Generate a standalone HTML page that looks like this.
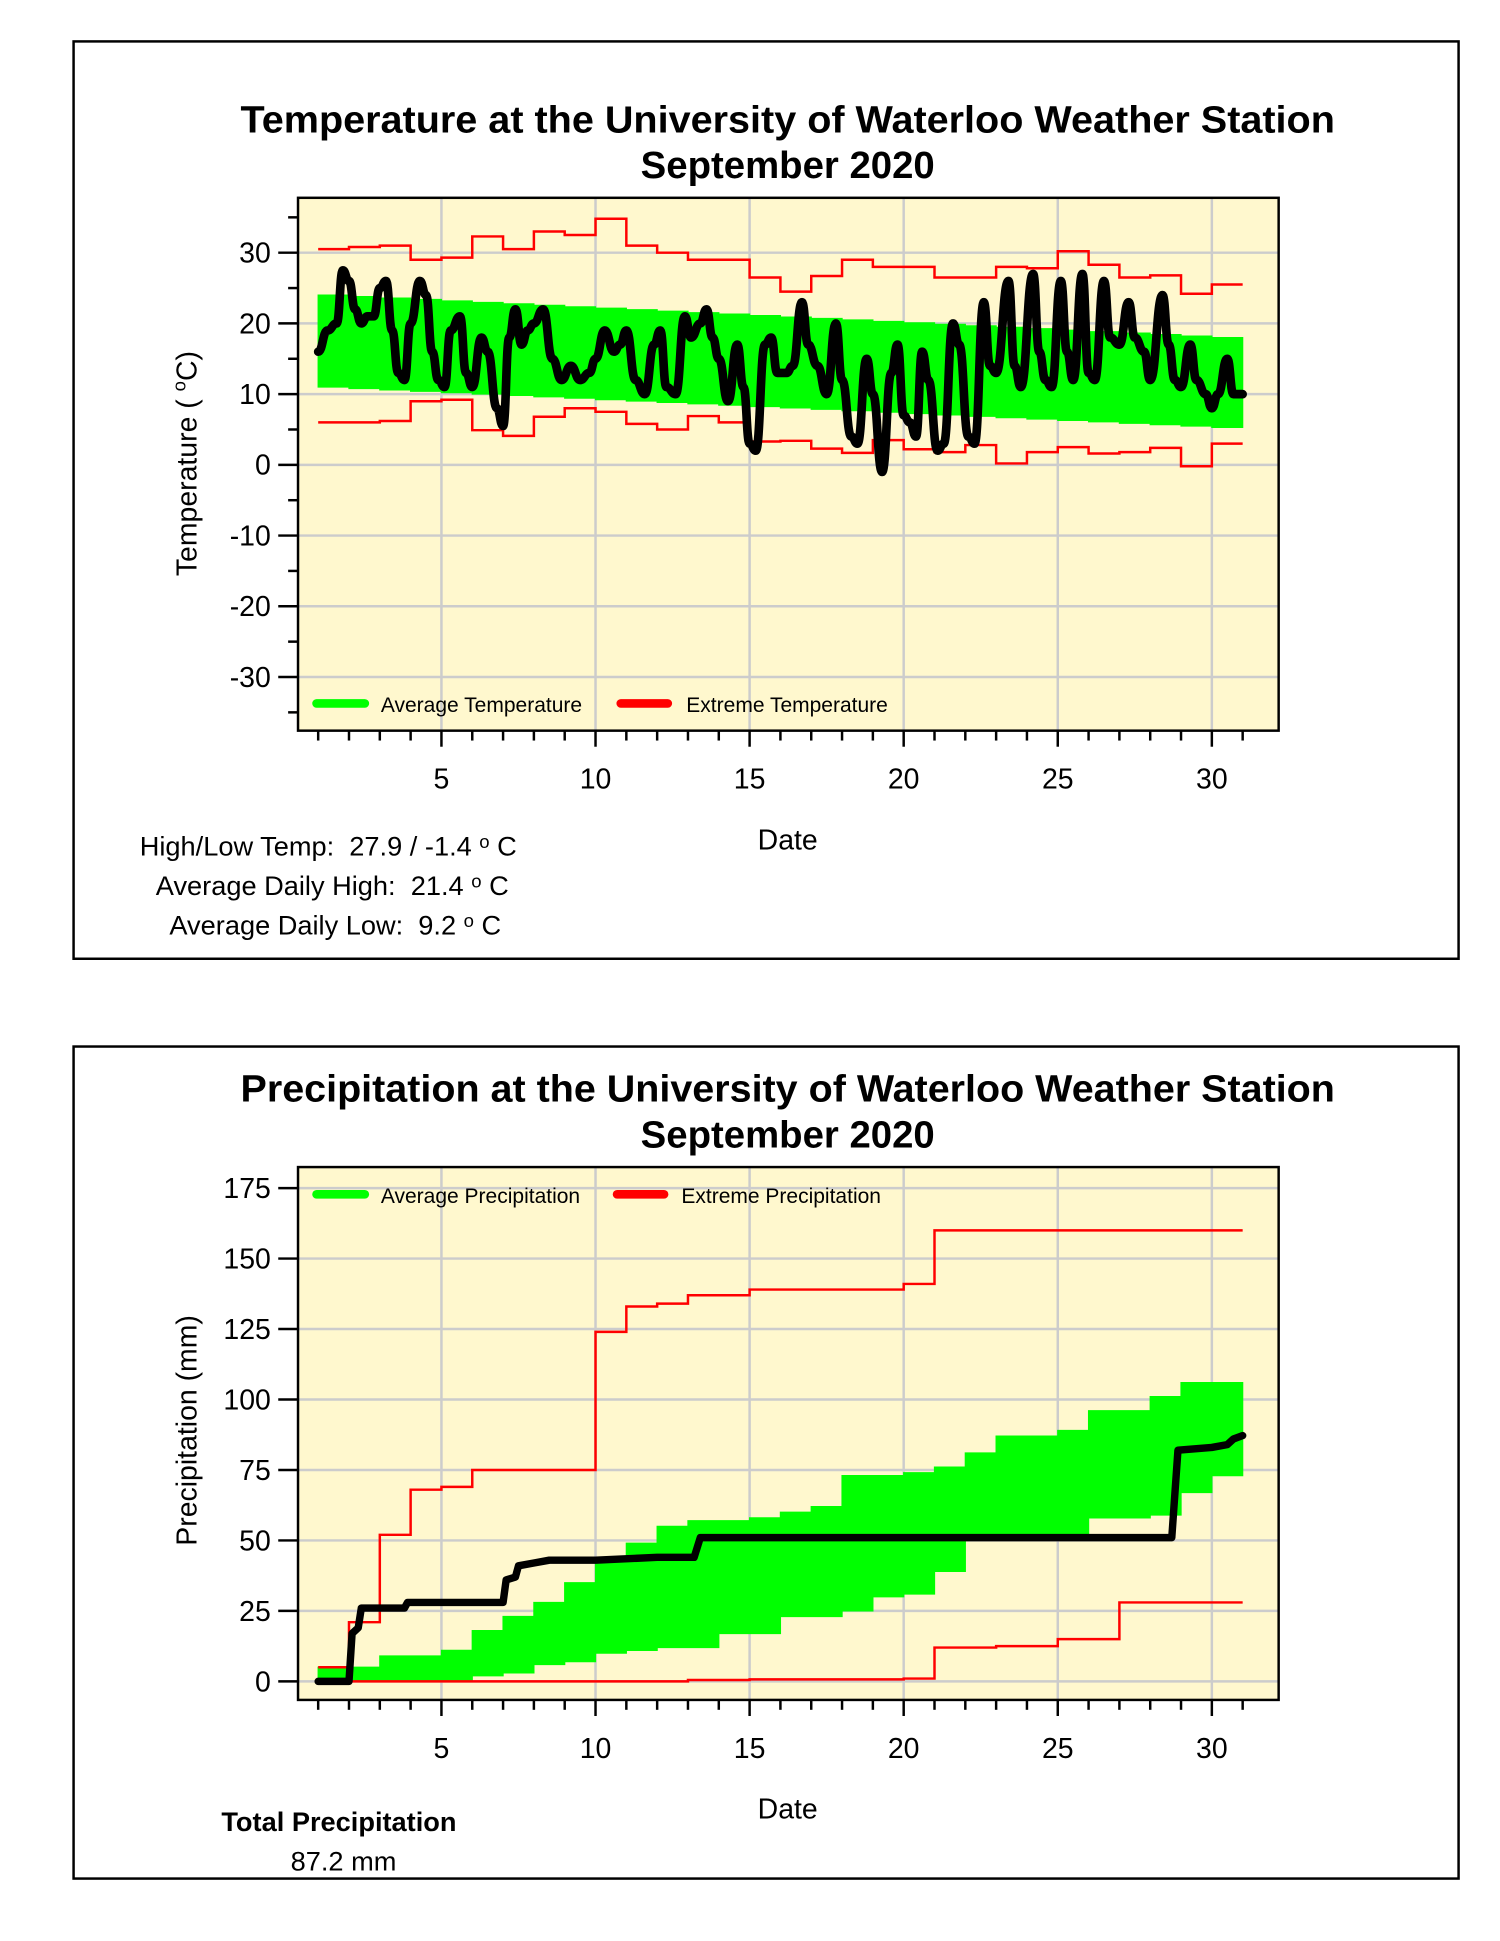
<!DOCTYPE html>
<html><head><meta charset="utf-8"><style>
html,body{margin:0;padding:0;background:#fff;}
svg{display:block;font-family:"Liberation Sans",sans-serif;}
</style></head><body>
<svg id="s" width="1500" height="1941" viewBox="0 0 1213 1570" preserveAspectRatio="none" xmlns="http://www.w3.org/2000/svg">
<rect x="0" y="0" width="1213" height="1570" fill="#fff"/>
<rect x="59.5" y="33.5" width="1120" height="742" fill="none" stroke="#000" stroke-width="2"/>
<rect x="59.5" y="846.5" width="1120" height="673" fill="none" stroke="#000" stroke-width="2"/>
<text x="637" y="107" text-anchor="middle" font-weight="bold" font-size="31" textLength="885" lengthAdjust="spacingAndGlyphs">Temperature at the University of Waterloo Weather Station</text>
<text x="637" y="144" text-anchor="middle" font-weight="bold" font-size="31">September 2020</text>
<text x="637" y="891" text-anchor="middle" font-weight="bold" font-size="31" textLength="885" lengthAdjust="spacingAndGlyphs">Precipitation at the University of Waterloo Weather Station</text>
<text x="637" y="928" text-anchor="middle" font-weight="bold" font-size="31">September 2020</text>
<g id="g1"></g>
<g id="g2"></g>
<text x="637" y="687" text-anchor="middle" font-size="23">Date</text>
<text x="637" y="1471" text-anchor="middle" font-size="23">Date</text>
<text transform="translate(159,375) rotate(-90)" text-anchor="middle" font-size="23">Temperature (&#160;<tspan font-size="15" dy="-9">o</tspan><tspan dy="9">C)</tspan></text>
<text transform="translate(159,1157) rotate(-90)" text-anchor="middle" font-size="23">Precipitation (mm)</text>
<text x="113" y="692" font-size="22">High/Low Temp:&#160; 27.9 / -1.4 <tspan font-size="15" dy="-6">o</tspan><tspan dy="6"> C</tspan></text>
<text x="126" y="724" font-size="22">Average Daily High:&#160; 21.4 <tspan font-size="15" dy="-6">o</tspan><tspan dy="6"> C</tspan></text>
<text x="137" y="756" font-size="22">Average Daily Low:&#160; 9.2 <tspan font-size="15" dy="-6">o</tspan><tspan dy="6"> C</tspan></text>
<text x="179" y="1481" font-size="22" font-weight="bold">Total Precipitation</text>
<text x="235" y="1513" font-size="22">87.2 mm</text>
</svg>
<script>
var NS="http://www.w3.org/2000/svg";
function el(p,t,a,txt){var e=document.createElementNS(NS,t);for(var k in a)e.setAttribute(k,a[k]);if(txt!==undefined)e.textContent=txt;p.appendChild(e);return e;}
function xd(d){return 257.3+(d-1)*24.92;}
function chart(g,top,bot,yf,yticks,minor){
  el(g,"rect",{x:241,y:top,width:793,height:bot-top,fill:"#FFF8CE"});
  yticks.forEach(function(v){var y=yf(v);el(g,"line",{x1:241,x2:1034,y1:y,y2:y,stroke:"#ccc","stroke-width":2});
    el(g,"line",{x1:225,x2:241,y1:y,y2:y,stroke:"#000","stroke-width":2});
    el(g,"text",{x:219,y:y+8,"text-anchor":"end","font-size":23},String(v));});
  minor.forEach(function(v){var y=yf(v);el(g,"line",{x1:233,x2:241,y1:y,y2:y,stroke:"#000","stroke-width":2});});
  for(var d=5;d<=30;d+=5){var x=xd(d);el(g,"line",{x1:x,x2:x,y1:top,y2:bot,stroke:"#ccc","stroke-width":2});
    el(g,"text",{x:x,y:bot+47,"text-anchor":"middle","font-size":23},String(d));}
  for(var d=1;d<=31;d++){var x=xd(d);el(g,"line",{x1:x,x2:x,y1:bot,y2:bot+(d%5==0?13:8),stroke:"#000","stroke-width":2});}
}
function steps(arr,yf){var s="";for(var i=0;i<arr.length;i++){var y=yf(arr[i]);s+=(i==0?"M":"L")+xd(i+1)+","+y+"L"+xd(i+2)+","+y;}return s;}
function band(hi,lo,yf){var s="";for(var i=0;i<hi.length;i++){s+="M"+xd(i+1)+","+yf(hi[i])+"H"+xd(i+2)+"V"+yf(lo[i])+"H"+xd(i+1)+"Z";}return s;}
function poly(pts,yf){return pts.map(function(p,i){return (i?"L":"M")+xd(p[0])+","+yf(p[1]);}).join("");}
function smooth(pts,yf){var s="M"+xd(pts[0][0])+","+yf(pts[0][1]);for(var i=1;i<pts.length;i++){var a=pts[i-1],b=pts[i],mx=(xd(a[0])+xd(b[0]))/2;s+="C"+mx+","+yf(a[1])+" "+mx+","+yf(b[1])+" "+xd(b[0])+","+yf(b[1]);}return s;}
var g1=document.getElementById("g1");
var yT=function(t){return 376-t*5.72;};
chart(g1,160,591,yT,[30,20,10,0,-10,-20,-30],[35,25,15,5,-5,-15,-25,-35]);
var hi=[],lo=[];for(var i=0;i<30;i++){hi.push(24-6*i/29);lo.push(11-5.7*i/29);}
el(g1,"path",{d:band(hi,lo,yT),fill:"#00FF00",stroke:"#00FF00","stroke-width":1});
var mx=[30.5,30.8,31,29,29.3,32.3,30.5,33,32.5,34.8,31,30,29,29,26.5,24.5,26.7,29,28,28,26.5,26.5,28,27.8,30.2,28.3,26.5,26.8,24.2,25.5];
var mn=[6,6,6.2,9,9.2,4.9,4.1,6.8,8,7.5,5.8,5,6.9,6,3.3,3.4,2.3,1.7,3.5,2.2,1.8,2.8,0.2,1.8,2.5,1.6,1.8,2.4,-0.2,3];
el(g1,"path",{d:steps(mx,yT),fill:"none",stroke:"#FF0000","stroke-width":2});
el(g1,"path",{d:steps(mn,yT),fill:"none",stroke:"#FF0000","stroke-width":2});
var tp=[[1,16],[1.3,19],[1.6,20],[1.8,27.5],[2,26],[2.2,22],[2.4,20],[2.6,21],[2.8,21],[3,25],[3.2,26],[3.4,19],[3.6,13],[3.8,12],[4,20],[4.3,26],[4.5,24],[4.7,16],[4.9,12],[5.1,11],[5.3,19],[5.6,21],[5.8,13],[6,11],[6.3,18],[6.5,16],[6.8,8],[7,5.5],[7.2,18],[7.4,22],[7.6,17],[7.8,19],[8,20],[8.3,22],[8.6,15],[8.9,12],[9.2,14],[9.5,12],[9.8,13],[10,15],[10.3,19],[10.6,16],[10.8,17],[11,19],[11.3,12],[11.6,10],[11.9,17],[12.1,19],[12.3,11],[12.6,10],[12.9,21],[13.1,18],[13.4,20],[13.6,22],[13.8,18],[14,15],[14.3,9],[14.6,17],[14.8,11],[15,3],[15.2,2],[15.5,17],[15.7,18],[15.9,13],[16.2,13],[16.4,14],[16.7,23],[16.9,17],[17.2,14],[17.5,10],[17.8,20],[18,12],[18.3,4],[18.5,3],[18.8,15],[19,10],[19.3,-1],[19.6,13],[19.8,17],[20,7],[20.2,6],[20.4,4],[20.6,16],[20.8,12],[21.1,2],[21.3,3],[21.6,20],[21.8,17],[22.1,4],[22.3,3],[22.6,23],[22.8,14],[23,13],[23.4,26],[23.6,14],[23.8,11],[24.2,27],[24.4,16],[24.6,12],[24.8,11],[25.1,26],[25.3,16],[25.5,12],[25.8,27],[26,13],[26.2,12],[26.5,26],[26.7,18],[27,17],[27.3,23],[27.5,18],[27.8,16],[28,12],[28.4,24],[28.6,17],[28.8,12],[29,11],[29.3,17],[29.5,12],[29.8,10],[30,8],[30.2,10],[30.5,15],[30.7,10],[31,10]];
el(g1,"path",{d:smooth(tp,yT),fill:"none",stroke:"#000","stroke-width":7,"stroke-linejoin":"round","stroke-linecap":"round"});
el(g1,"rect",{x:241,y:160,width:793,height:431,fill:"none",stroke:"#000","stroke-width":2});
el(g1,"line",{x1:256,x2:295,y1:569,y2:569,stroke:"#00FF00","stroke-width":7,"stroke-linecap":"round"});
el(g1,"text",{x:308,y:576,"font-size":17},"Average Temperature");
el(g1,"line",{x1:502,x2:540,y1:569,y2:569,stroke:"#FF0000","stroke-width":7,"stroke-linecap":"round"});
el(g1,"text",{x:555,y:576,"font-size":17},"Extreme Temperature");
var g2=document.getElementById("g2");
var yP=function(p){return 1360-p*2.28;};
chart(g2,944,1375,yP,[175,150,125,100,75,50,25,0],[]);
var ph=[5,5,9,9,11,18,23,28,35,44,49,55,57,57,58,60,62,73,73,74,76,81,87,87,89,96,96,101,106,106];
var pl=[0,0,0,0,0,2,3,6,7,10,11,12,12,17,17,23,23,25,30,31,39,52,52,52,52,58,58,59,67,73];
el(g2,"path",{d:band(ph,pl,yP),fill:"#00FF00",stroke:"#00FF00","stroke-width":1});
var pmx=[5,21,52,68,69,75,75,75,75,124,133,134,137,137,139,139,139,139,139,141,160,160,160,160,160,160,160,160,160,160];
var pmn=[0,0,0,0,0,0,0,0,0,0,0,0,0.5,0.5,0.7,0.7,0.7,0.7,0.7,1,12,12,12.5,12.5,15,15,28,28,28,28];
el(g2,"path",{d:steps(pmx,yP),fill:"none",stroke:"#FF0000","stroke-width":2});
el(g2,"path",{d:steps(pmn,yP),fill:"none",stroke:"#FF0000","stroke-width":2});
var pp=[[1,0],[2,0],[2.1,17],[2.3,19],[2.4,26],[3.8,26],[3.9,28],[7,28],[7.1,36],[7.4,37],[7.5,41],[8,42],[8.5,43],[10,43],[12,44],[13.2,44],[13.4,51],[28.7,51],[28.9,82],[30,83],[30.5,84],[30.7,86],[31,87.2]];
el(g2,"path",{d:poly(pp,yP),fill:"none",stroke:"#000","stroke-width":6,"stroke-linejoin":"round","stroke-linecap":"round"});
el(g2,"rect",{x:241,y:944,width:793,height:431,fill:"none",stroke:"#000","stroke-width":2});
el(g2,"line",{x1:256,x2:295,y1:966,y2:966,stroke:"#00FF00","stroke-width":7,"stroke-linecap":"round"});
el(g2,"text",{x:308,y:973,"font-size":17},"Average Precipitation");
el(g2,"line",{x1:499,x2:537,y1:966,y2:966,stroke:"#FF0000","stroke-width":7,"stroke-linecap":"round"});
el(g2,"text",{x:551,y:973,"font-size":17},"Extreme Precipitation");
</script>
</body></html>
